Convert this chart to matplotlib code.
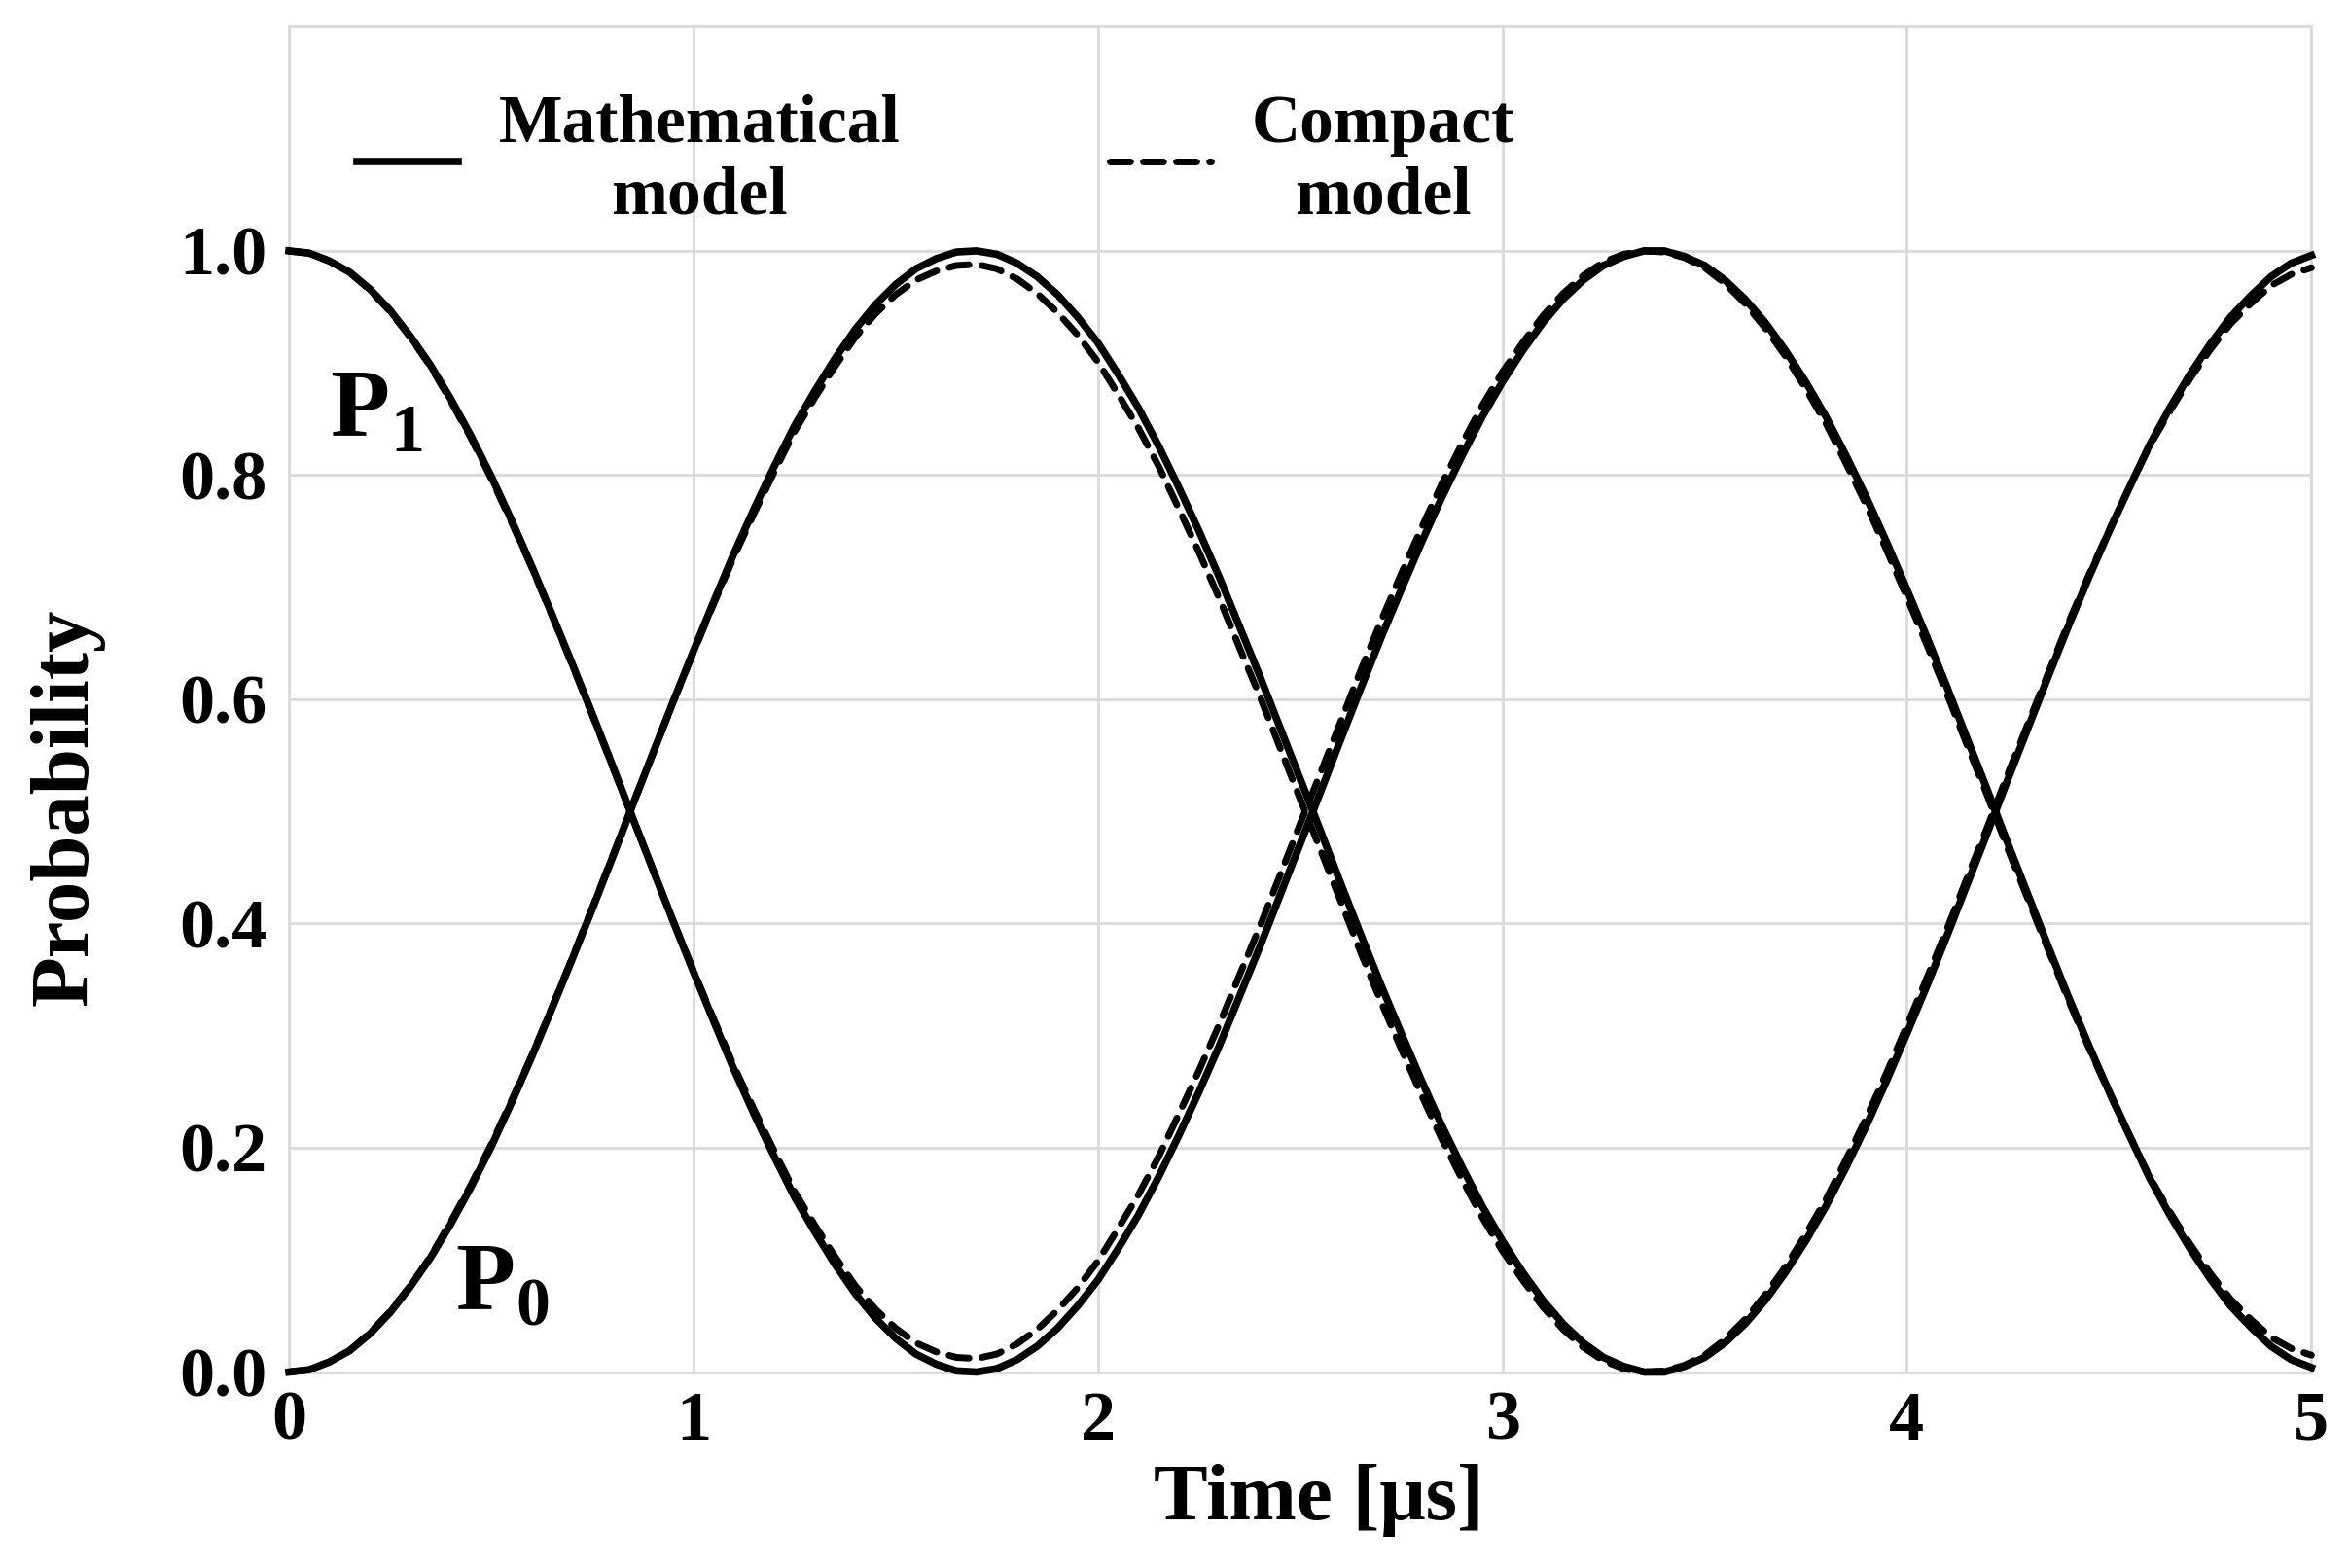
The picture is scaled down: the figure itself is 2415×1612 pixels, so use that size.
import numpy as np
import matplotlib
matplotlib.use("Agg")
import matplotlib.pyplot as plt

# Time axis [us], sampled every 0.05 us
time_us = [round(0.05 * i, 2) for i in range(101)]

# Mathematical model
p1_math = [1.000, 0.998, 0.991, 0.981, 0.966, 0.947, 0.924, 0.898, 0.868, 0.835,
           0.799, 0.760, 0.719, 0.676, 0.632, 0.587, 0.541, 0.494, 0.448, 0.402,
           0.357, 0.313, 0.270, 0.230, 0.192, 0.156, 0.125, 0.096, 0.070, 0.048,
           0.030, 0.016, 0.007, 0.001, 0.000, 0.003, 0.011, 0.023, 0.039, 0.059,
           0.082, 0.110, 0.140, 0.174, 0.211, 0.250, 0.291, 0.335, 0.379, 0.425,
           0.471, 0.517, 0.564, 0.610, 0.655, 0.698, 0.740, 0.780, 0.817, 0.852,
           0.883, 0.911, 0.936, 0.957, 0.974, 0.987, 0.995, 1.000, 1.000, 0.995,
           0.987, 0.974, 0.957, 0.936, 0.911, 0.883, 0.852, 0.817, 0.780, 0.740,
           0.698, 0.655, 0.610, 0.564, 0.518, 0.471, 0.425, 0.379, 0.334, 0.291,
           0.250, 0.211, 0.173, 0.140, 0.110, 0.083, 0.059, 0.040, 0.023, 0.011,
           0.004]
p0_math = [0.000, 0.002, 0.009, 0.019, 0.034, 0.053, 0.076, 0.102, 0.132, 0.165,
           0.201, 0.240, 0.281, 0.324, 0.368, 0.413, 0.459, 0.506, 0.552, 0.598,
           0.643, 0.687, 0.730, 0.770, 0.808, 0.844, 0.875, 0.904, 0.930, 0.952,
           0.970, 0.984, 0.993, 0.999, 1.000, 0.997, 0.989, 0.977, 0.961, 0.941,
           0.918, 0.890, 0.860, 0.826, 0.789, 0.750, 0.709, 0.665, 0.621, 0.575,
           0.529, 0.483, 0.436, 0.390, 0.345, 0.302, 0.260, 0.220, 0.183, 0.148,
           0.117, 0.089, 0.064, 0.043, 0.026, 0.013, 0.005, 0.000, 0.000, 0.005,
           0.013, 0.026, 0.043, 0.064, 0.089, 0.117, 0.148, 0.183, 0.220, 0.260,
           0.302, 0.345, 0.390, 0.436, 0.482, 0.529, 0.575, 0.621, 0.666, 0.709,
           0.750, 0.789, 0.827, 0.860, 0.890, 0.917, 0.941, 0.960, 0.977, 0.989,
           0.996]

# Compact model
p1_compact = [1.000, 0.998, 0.991, 0.981, 0.965, 0.946, 0.923, 0.897, 0.866, 0.833,
              0.797, 0.758, 0.718, 0.675, 0.631, 0.586, 0.540, 0.494, 0.448, 0.402,
              0.358, 0.315, 0.273, 0.234, 0.197, 0.161, 0.131, 0.103, 0.077, 0.056,
              0.039, 0.026, 0.018, 0.013, 0.012, 0.016, 0.025, 0.038, 0.055, 0.075,
              0.099, 0.128, 0.158, 0.192, 0.230, 0.269, 0.310, 0.354, 0.397, 0.443,
              0.489, 0.534, 0.580, 0.626, 0.670, 0.712, 0.753, 0.792, 0.828, 0.862,
              0.892, 0.918, 0.942, 0.962, 0.978, 0.990, 0.997, 1.000, 0.999, 0.994,
              0.985, 0.971, 0.953, 0.931, 0.906, 0.877, 0.846, 0.810, 0.773, 0.733,
              0.691, 0.648, 0.604, 0.558, 0.513, 0.466, 0.421, 0.376, 0.331, 0.289,
              0.249, 0.211, 0.174, 0.143, 0.114, 0.088, 0.065, 0.047, 0.031, 0.021,
              0.015]
p0_compact = [0.000, 0.002, 0.009, 0.019, 0.035, 0.054, 0.077, 0.103, 0.134, 0.167,
              0.203, 0.242, 0.282, 0.325, 0.369, 0.414, 0.460, 0.506, 0.552, 0.598,
              0.642, 0.685, 0.727, 0.766, 0.803, 0.839, 0.869, 0.897, 0.923, 0.944,
              0.961, 0.974, 0.982, 0.987, 0.988, 0.984, 0.975, 0.962, 0.945, 0.925,
              0.901, 0.872, 0.842, 0.808, 0.770, 0.731, 0.690, 0.646, 0.603, 0.557,
              0.511, 0.466, 0.420, 0.374, 0.330, 0.288, 0.247, 0.208, 0.172, 0.138,
              0.108, 0.082, 0.058, 0.038, 0.022, 0.010, 0.003, 0.000, 0.001, 0.006,
              0.015, 0.029, 0.047, 0.069, 0.094, 0.123, 0.154, 0.190, 0.227, 0.267,
              0.309, 0.352, 0.396, 0.442, 0.487, 0.534, 0.579, 0.624, 0.669, 0.711,
              0.751, 0.789, 0.826, 0.857, 0.886, 0.912, 0.935, 0.953, 0.969, 0.979,
              0.985]

x_ticks = [0, 1, 2, 3, 4, 5]
y_ticks = [0.0, 0.2, 0.4, 0.6, 0.8, 1.0]

plt.rcParams['font.family'] = ['Liberation Serif', 'DejaVu Serif']
plt.rcParams['font.weight'] = 'bold'
plt.rcParams['mathtext.fontset'] = 'custom'
plt.rcParams['mathtext.rm'] = 'Liberation Serif'
plt.rcParams['mathtext.bf'] = 'Liberation Serif:bold'

fig = plt.figure(figsize=(24.15, 16.12), dpi=100)
ax = fig.add_axes([0.123, 0.125, 0.861, 0.858])

grid_col = '#d9d9d9'
lw_solid = 5.5
lw_dash = 5.0
dash = (0, (3.0, 1.9))

ax.plot(time_us, p1_math, color='black', lw=lw_solid, solid_joinstyle='round',
        clip_on=False, label='Mathematical\nmodel', zorder=3)
ax.plot(time_us, p0_math, color='black', lw=lw_solid, solid_joinstyle='round',
        clip_on=False, zorder=3)
ax.plot(time_us, p1_compact, color='black', lw=lw_dash, ls=dash,
        dash_capstyle='round', clip_on=False, label='Compact\nmodel', zorder=4)
ax.plot(time_us, p0_compact, color='black', lw=lw_dash, ls=dash,
        dash_capstyle='round', clip_on=False, zorder=4)

ax.set_xlim(0, 5)
ax.set_ylim(0, 1.2)
ax.set_xticks(x_ticks)
ax.set_yticks(y_ticks)
ax.set_xticklabels([str(v) for v in x_ticks])
ax.set_yticklabels([f'{v:.1f}' for v in y_ticks])
ax.grid(True, color=grid_col, lw=2)
ax.set_axisbelow(True)
for s in ax.spines.values():
    s.set_color(grid_col)
    s.set_linewidth(2)
ax.tick_params(length=0, labelsize=52)
ax.tick_params(axis='y', pad=16)
ax.tick_params(axis='x', pad=14)

ax.set_xlabel('Time [μs]', fontsize=60, fontweight='bold')
ax.xaxis.set_label_coords(0.509, -0.068)
ax.set_ylabel('Probability', fontsize=61, fontweight='bold')
ax.yaxis.set_label_coords(-0.091, 0.42)

# curve labels
ax.text(0.10, 0.835, r'$\mathbf{P}_\mathrm{1}$', fontsize=72)
ax.text(0.41, 0.056, r'$\mathbf{P}_\mathrm{0}$', fontsize=72)

leg = ax.legend(loc='upper left', bbox_to_anchor=(0.017, 0.975), frameon=False,
                ncol=2, fontsize=50, handlelength=1.5, handletextpad=0.6,
                columnspacing=3.1, borderpad=0)
for t in leg.get_texts():
    t.set_multialignment('center')

fig.savefig('out.png', dpi=100)
